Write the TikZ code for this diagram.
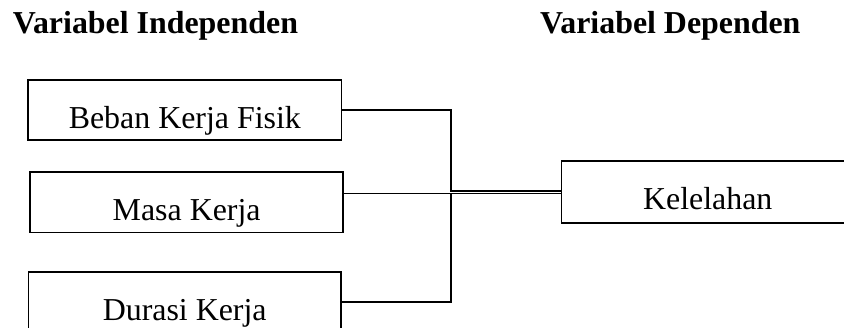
\documentclass[tikz,border=0pt]{standalone}
\usepackage{fontspec}
\setmainfont{Liberation Serif}
\usetikzlibrary{calc}
\begin{document}
\begin{tikzpicture}[x=1pt, y=-1pt,
    varbox/.style={draw, line width=1.7pt, inner sep=0pt, anchor=north west,
      font=\fontsize{31.9}{36}\selectfont, text height=49pt},
    heading/.style={inner sep=0pt, anchor=base west,
      font=\fontsize{31.9}{36}\selectfont\bfseries},
    link/.style={line width=1.5pt}]
  \useasboundingbox (0,0) rectangle (844,328);
  \clip (0,0) rectangle (844,328);

  % column headings
  \node[heading] (hin) at (12.7,33.3) {Variabel Independen};
  \node[heading] (hdep) at (540,33.3) {Variabel Dependen};

  % independent variables
  \node[varbox, minimum width=313.4pt, text depth=11pt] (b1) at (27.3,79) {Beban Kerja Fisik};
  \node[varbox, minimum width=313pt, text depth=11.7pt] (b2) at (29.3,171) {Masa Kerja};
  \node[varbox, minimum width=312.3pt, text depth=11pt] (b3) at (27.7,271) {Durasi Kerja};

  % dependent variable
  \node[varbox, minimum width=292.3pt, text depth=13.3pt] (k) at (560.7,160) {Kelelahan};

  % junction points on the collecting bar
  \coordinate (j1) at (451,191);
  \coordinate (j2) at (451,193.3);

  % connectors
  \draw[link] (b1.east) -| (j1) -- (j1 -| k.west);
  \draw[link] (b2.east |- j2) -- (j2 -| k.west);
  \draw[link] (b3.east) -| (j2);
\end{tikzpicture}
\end{document}
